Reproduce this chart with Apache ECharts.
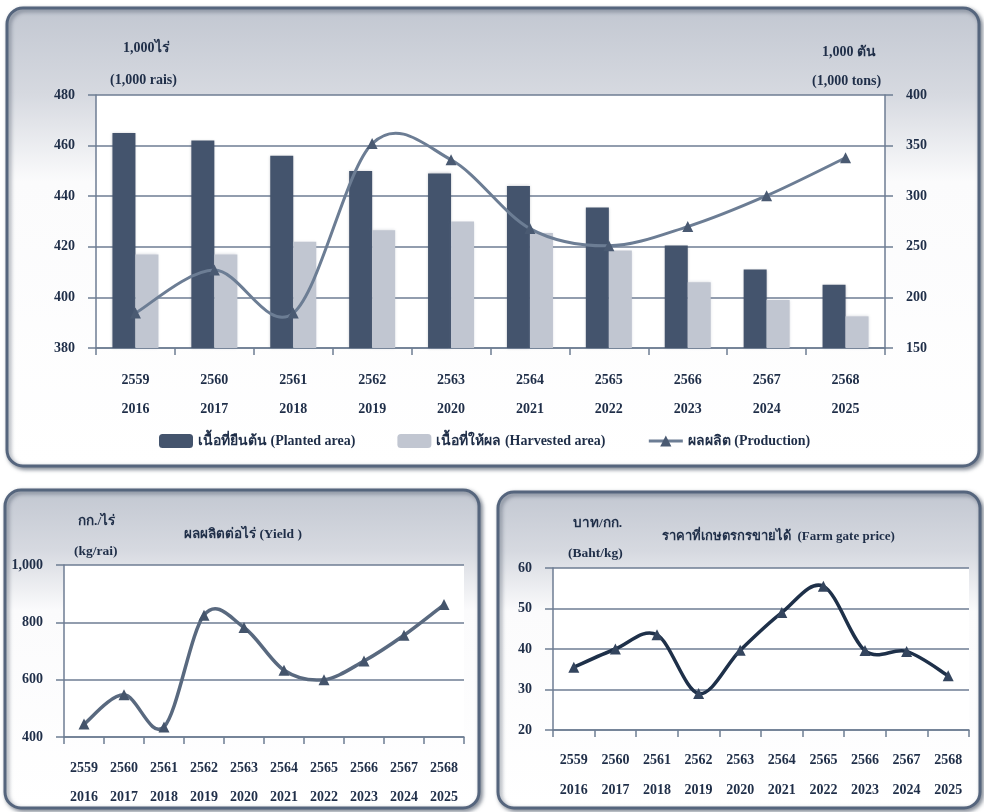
<!DOCTYPE html>
<html>
<head>
<meta charset="utf-8">
<style>
  html, body { margin: 0; padding: 0; background: #ffffff; }
  #chart { width: 984px; height: 812px; }
</style>
<script src="https://cdn.jsdelivr.net/npm/echarts@6/dist/echarts.min.js"></script>
</head>
<body>
<div id="chart"></div>
<script>
// Crop years: Thai Buddhist Era and the matching Common Era year
const yearsBE = ['2559', '2560', '2561', '2562', '2563', '2564', '2565', '2566', '2567', '2568'];
const yearsCE = ['2016', '2017', '2018', '2019', '2020', '2021', '2022', '2023', '2024', '2025'];

// Area (1,000 rai) and production (1,000 tons)
const plantedArea = [465, 462, 456, 450, 449, 444, 435.5, 420.5, 411, 405];
const harvestedArea = [417, 417, 422, 426.5, 430, 425.5, 418.5, 406, 399, 392.5];
const production = [184.5, 227, 184.5, 352, 336, 268, 251, 270, 300.5, 338];

// Yield (kg/rai) and farm gate price (Baht/kg)
const yieldPerRai = [445, 547, 435, 825, 782, 633, 600, 665, 755, 862];
const farmGatePrice = [35.5, 40, 43.5, 29, 39.7, 49, 55.5, 39.6, 39.4, 33.4];

// Axis ranges
const areaAxis = { min: 380, max: 480, interval: 20 };
const prodAxis = { min: 150, max: 400, interval: 50 };
const yieldAxis = { min: 400, max: 1000, interval: 200 };
const priceAxis = { min: 20, max: 60, interval: 10 };

const categories = yearsBE.map((be, i) => be + '\n' + yearsCE[i]);

const FONT = '"Liberation Serif", "Times New Roman", serif';
const INK = '#1f2e48';
const GRID_LINE = '#6e7d93';

const PROD_NAME = 'ผลผลิต (Production)';
const PROD_LINE = '#6c7d94';

const chart = echarts.init(document.getElementById('chart'), null, { renderer: 'canvas' });

function catAxis(gridIndex, margin, lineHeight) {
  return {
    type: 'category',
    gridIndex: gridIndex,
    data: categories,
    boundaryGap: true,
    axisLine: { show: true, lineStyle: { color: GRID_LINE, width: 1.5 } },
    axisTick: { show: true, length: 7, alignWithLabel: false, lineStyle: { color: GRID_LINE, width: 1.5 } },
    axisLabel: {
      margin: margin, color: INK, fontFamily: FONT, fontWeight: 'bold',
      fontSize: 14, lineHeight: lineHeight, interval: 0
    }
  };
}

function valAxis(gridIndex, range, position, opts) {
  opts = opts || {};
  return Object.assign({
    type: 'value',
    gridIndex: gridIndex,
    position: position,
    min: range.min, max: range.max, interval: range.interval,
    axisLine: { show: true, lineStyle: { color: GRID_LINE, width: 1.5 } },
    axisTick: { show: true, length: 8, lineStyle: { color: GRID_LINE, width: 1.5 } },
    splitLine: { show: true, lineStyle: { color: GRID_LINE, width: 1.5 } },
    axisLabel: {
      margin: 21, color: INK, fontFamily: FONT, fontWeight: 'bold', fontSize: 14,
      formatter: v => v.toLocaleString('en-US')
    }
  }, opts);
}

// Smoothed curve through the points (Catmull-Rom style Bezier segments),
// positioned with the axes' own coordinate conversion.
function smoothCurve(values, xIdx, yIdx, color, width) {
  const n = values.length;
  return {
    type: 'custom',
    xAxisIndex: xIdx, yAxisIndex: yIdx,
    silent: true,
    z: 3,
    data: values.map((v, i) => [i, v]),
    renderItem: function (params, api) {
      const i = params.dataIndex;
      if (i >= n - 1) return null;
      const pt = k => {
        const c = Math.max(0, Math.min(n - 1, k));
        return api.coord([c, values[c]]);
      };
      const p0 = pt(i - 1), p1 = pt(i), p2 = pt(i + 1), p3 = pt(i + 2);
      const t = 1 / 6;
      return {
        type: 'bezierCurve',
        shape: {
          x1: p1[0], y1: p1[1],
          cpx1: p1[0] + (p2[0] - p0[0]) * t, cpy1: p1[1] + (p2[1] - p0[1]) * t,
          cpx2: p2[0] - (p3[0] - p1[0]) * t, cpy2: p2[1] - (p3[1] - p1[1]) * t,
          x2: p2[0], y2: p2[1]
        },
        style: { fill: null, stroke: color, lineWidth: width, lineCap: 'round' }
      };
    }
  };
}

// Triangle markers for a series (the curve itself is drawn by smoothCurve)
function markers(name, values, xIdx, yIdx, color) {
  return {
    name: name,
    type: 'line', xAxisIndex: xIdx, yAxisIndex: yIdx,
    data: values,
    symbol: 'triangle', symbolSize: 11,
    lineStyle: { opacity: 0 },
    itemStyle: { color: color },
    z: 4
  };
}

// Rounded, shaded card drawn behind each chart
function panel(x, y, w, h, fadeAt) {
  return {
    type: 'rect',
    z: -10,
    shape: { x: x, y: y, width: w, height: h, r: 16 },
    style: {
      fill: new echarts.graphic.LinearGradient(0, 0, 0, 1, [
        { offset: 0, color: '#c2c7d1' },
        { offset: fadeAt * 0.5, color: '#d6d9e0' },
        { offset: fadeAt, color: '#fbfbfc' },
        { offset: 1, color: '#ffffff' }
      ]),
      stroke: '#55657d',
      lineWidth: 3,
      shadowBlur: 4,
      shadowOffsetX: 2,
      shadowOffsetY: 2,
      shadowColor: 'rgba(40,52,72,0.55)'
    }
  };
}

function label(text, x, y, size) {
  return {
    type: 'text',
    z: 50,
    x: x, y: y,
    style: {
      text: text, fill: INK, font: 'bold ' + (size || 13) + 'px ' + FONT,
      textAlign: 'left', textVerticalAlign: 'middle'
    }
  };
}

const option = {
  animation: false,
  backgroundColor: '#ffffff',
  graphic: [
    panel(7, 8, 972, 458, 0.38),
    panel(5, 490, 474, 318, 0.38),
    panel(498, 492, 482, 316, 0.38),
    label('1,000ไร่', 123, 48, 14),
    label('(1,000 rais)', 110, 80, 14),
    label('1,000 ตัน', 822, 52, 14),
    label('(1,000 tons)', 812, 81, 14),
    label('กก./ไร่', 78, 522, 13.5),
    label('(kg/rai)', 74, 552, 13.5),
    label('ผลผลิตต่อไร่ (Yield )', 184, 535, 13.5),
    label('บาท/กก.', 573, 524, 13.5),
    label('(Baht/kg)', 568, 554, 13.5),
    label('ราคาที่เกษตรกรขายได้  (Farm gate price)', 662, 537, 13)
  ],
  legend: {
    left: 159, top: 434, padding: 0,
    itemWidth: 34, itemHeight: 14, itemGap: 42,
    textStyle: { color: INK, fontFamily: FONT, fontWeight: 'bold', fontSize: 14 },
    data: [
      'เนื้อที่ยืนต้น (Planted area)',
      'เนื้อที่ให้ผล (Harvested area)',
      { name: PROD_NAME, lineStyle: { color: PROD_LINE, width: 3, opacity: 1 } }
    ]
  },
  grid: [
    { left: 96, top: 95, width: 789, height: 253, show: true, backgroundColor: '#ffffff', borderWidth: 0 },
    { left: 64, top: 565, width: 400, height: 172, show: true, backgroundColor: '#ffffff', borderWidth: 0 },
    { left: 553, top: 568, width: 416, height: 162, show: true, backgroundColor: '#ffffff', borderWidth: 0 }
  ],
  xAxis: [
    catAxis(0, 18, 29),
    catAxis(1, 17, 29),
    catAxis(2, 15, 30)
  ],
  yAxis: [
    valAxis(0, areaAxis, 'left'),
    valAxis(0, prodAxis, 'right', { splitLine: { show: false } }),
    valAxis(1, yieldAxis, 'left'),
    valAxis(2, priceAxis, 'left')
  ],
  series: [
    {
      name: 'เนื้อที่ยืนต้น (Planted area)',
      type: 'bar', xAxisIndex: 0, yAxisIndex: 0,
      data: plantedArea, barWidth: 23, barGap: '0%',
      itemStyle: { color: '#44546d', shadowBlur: 3, shadowColor: 'rgba(60,70,90,0.35)' }
    },
    {
      name: 'เนื้อที่ให้ผล (Harvested area)',
      type: 'bar', xAxisIndex: 0, yAxisIndex: 0,
      data: harvestedArea, barWidth: 23, barGap: '0%',
      itemStyle: { color: '#c1c6d1', shadowBlur: 3, shadowColor: 'rgba(120,130,150,0.3)' }
    },
    smoothCurve(production, 0, 1, PROD_LINE, 3),
    markers(PROD_NAME, production, 0, 1, '#4a5a72'),
    smoothCurve(yieldPerRai, 1, 2, '#59697f', 3.5),
    markers('yield', yieldPerRai, 1, 2, '#44546b'),
    smoothCurve(farmGatePrice, 2, 3, '#1e3049', 3.5),
    markers('price', farmGatePrice, 2, 3, '#34455e')
  ]
};

chart.setOption(option);
</script>
</body>
</html>
